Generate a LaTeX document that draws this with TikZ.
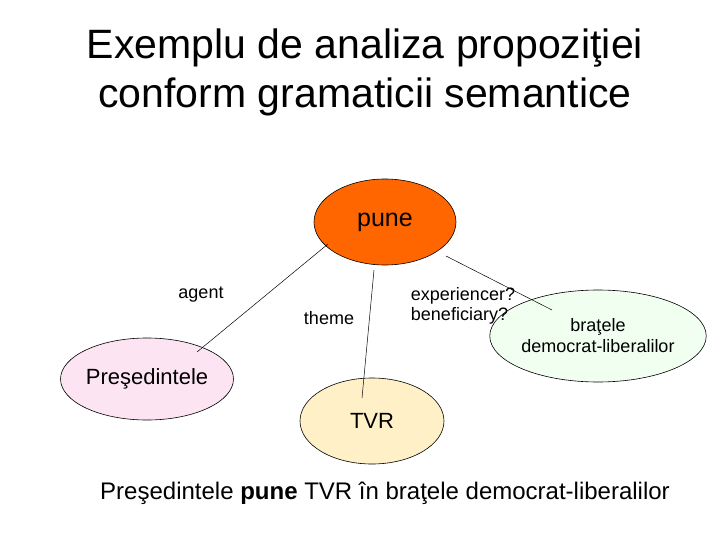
\documentclass[tikz,border=0pt]{standalone}
\usepackage{fontspec}
\setmainfont{Liberation Sans}
\usetikzlibrary{shapes.geometric}
\begin{document}
\begin{tikzpicture}[x=1pt,y=-1pt,
  ell/.style={ellipse,draw=black,line width=0.6pt,inner sep=0pt},
  lbl/.style={font=\fontsize{18}{20}\selectfont,align=left}]
\useasboundingbox (0,0) rectangle (720,540);
\node[align=center,font=\fontsize{41}{49}\selectfont] (title) at (365,72) {Exemplu de analiza propoziţiei\\conform gramaticii semantice};
\node[ell,fill={rgb,255:red,255;green,102;blue,0},minimum width=142,minimum height=86,font=\fontsize{25}{28}\selectfont] (pune) at (385,222) {pune};
\node[ell,fill={rgb,255:red,253;green,228;blue,242},minimum width=138,minimum height=82,font=\fontsize{22}{26}\selectfont] (pres) at (147,379) {Preşedintele};
\node[ell,fill={rgb,255:red,255;green,240;blue,200},minimum width=144,minimum height=86,font=\fontsize{22}{26}\selectfont] (tvr) at (372,421) {TVR};
\node[ell,fill={rgb,255:red,240;green,255;blue,240},minimum width=168,minimum height=92,align=center,font=\fontsize{18}{21}\selectfont] (brat) at (598,336) {braţele\\democrat-liberalilor};
\coordinate (a1) at (328,244); \coordinate (a2) at (197,352);
\coordinate (t1) at (374,270); \coordinate (t2) at (362,398);
\coordinate (e1) at (446,256); \coordinate (e2) at (552,310);
\draw[line width=0.5pt] (a1) -- (a2);
\draw[line width=0.5pt] (t1) -- (t2);
\draw[line width=0.5pt] (e1) -- (e2);
\node[lbl] (agent) at (201,295) {agent};
\node[lbl] (theme) at (329,318) {theme};
\node[lbl,align=left] (exp) at (463,306) {experiencer?\\beneficiary?};
\node[font=\fontsize{24}{28}\selectfont] (sent) at (385,493) {Preşedintele \textbf{pune} TVR în braţele democrat-liberalilor};
\end{tikzpicture}
\end{document}
